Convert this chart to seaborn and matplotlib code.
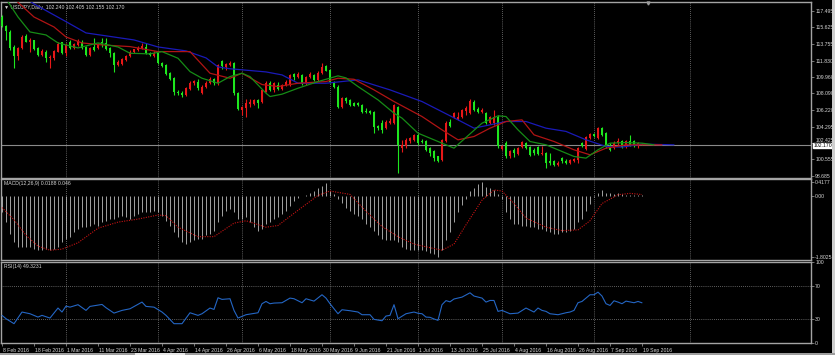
"""
USDJPY daily chart (Feb - Sep 2016) in the MetaTrader black layout:
candles with the Alligator lines, MACD(12,26,9) and RSI(14) sub-windows.
"""

import matplotlib
matplotlib.use("Agg")

import matplotlib.pyplot as plt
import matplotlib.transforms as mtransforms
import numpy as np
import pandas as pd
import seaborn as sns
from matplotlib.patches import Rectangle

# --- chart data -------------------------------------------------------------

date_labels = [
    "8 Feb 2016", "18 Feb 2016", "1 Mar 2016", "11 Mar 2016", "23 Mar 2016",
    "4 Apr 2016", "14 Apr 2016", "26 Apr 2016", "6 May 2016", "18 May 2016",
    "30 May 2016", "9 Jun 2016", "21 Jun 2016", "1 Jul 2016", "13 Jul 2016",
    "25 Jul 2016", "4 Aug 2016", "16 Aug 2016", "26 Aug 2016", "7 Sep 2016",
    "19 Sep 2016",
]
label_bars = list(range(0, 161, 8))
month_bars = [16, 39, 60, 82, 104, 125, 148, 172]

opens = [
    116.81, 115.79, 115.14, 113.43, 112.40, 113.31, 114.68, 113.96, 114.16, 113.24,
    112.48, 112.86, 112.10, 112.10, 112.86, 113.93, 112.67, 114.00, 113.31, 113.62,
    113.93, 113.43, 112.48, 113.43, 113.24, 113.93, 113.82, 113.24, 112.67, 111.34,
    111.45, 111.91, 112.37, 112.80, 113.05, 113.24, 113.43, 112.67, 112.37, 112.67,
    111.60, 111.34, 110.39, 109.82, 108.30, 108.18, 107.92, 108.57, 109.25, 109.44,
    108.11, 108.80, 109.32, 109.74, 109.25, 111.83, 111.15, 111.34, 111.53, 108.15,
    106.21, 106.40, 106.89, 106.89, 107.35, 107.16, 108.30, 109.32, 108.49, 109.06,
    108.57, 109.06, 109.06, 110.28, 110.00, 110.20, 109.25, 110.00, 110.20, 109.63,
    110.39, 111.23, 110.77, 109.44, 108.87, 106.52, 107.54, 107.35, 106.97, 107.04,
    106.78, 106.13, 106.13, 106.02, 104.39, 104.76, 104.12, 104.76, 104.69, 106.59,
    101.84, 102.03, 102.60, 102.79, 103.36, 102.71, 102.60, 101.84, 101.46, 100.89,
    100.51, 102.60, 104.88, 105.41, 105.18, 105.41, 106.13, 105.87, 107.16, 106.29,
    105.95, 105.87, 104.69, 104.76, 105.45, 101.73, 102.41, 100.89, 101.65, 101.19,
    101.99, 102.41, 101.95, 101.65, 101.95, 101.19, 101.27, 100.32, 100.32, 99.94,
    100.70, 100.43, 100.20, 100.35, 100.51, 102.41, 101.73, 102.98, 103.47, 103.02,
    104.12, 103.55, 102.22, 101.84, 102.45, 102.60, 101.96, 102.60, 102.60, 102.05,
    102.240,
]
highs = [
    117.04, 115.90, 115.30, 113.60, 113.40, 114.80, 114.87, 114.42, 114.20, 113.40,
    113.16, 113.00, 112.48, 113.05, 113.90, 114.00, 113.80, 114.15, 113.85, 114.30,
    114.20, 113.50, 113.40, 114.42, 113.85, 114.42, 114.42, 113.43, 112.80, 111.90,
    112.15, 112.50, 113.00, 113.20, 113.45, 113.85, 113.82, 112.80, 112.90, 112.80,
    111.70, 111.45, 110.50, 109.95, 108.50, 108.40, 108.80, 109.50, 109.65, 109.70,
    109.00, 109.45, 109.97, 109.90, 111.45, 111.90, 111.60, 111.80, 111.68, 108.30,
    106.60, 107.43, 107.45, 107.50, 107.43, 108.60, 109.45, 109.50, 109.35, 109.44,
    109.20, 109.60, 110.35, 110.40, 110.54, 110.30, 110.10, 110.50, 110.35, 110.60,
    111.60, 111.30, 110.90, 109.55, 109.00, 107.70, 107.73, 107.50, 107.15, 107.15,
    106.90, 106.40, 106.25, 106.10, 104.50, 105.07, 105.00, 105.30, 106.90, 106.67,
    102.79, 102.95, 103.15, 103.50, 103.50, 102.90, 102.75, 101.95, 101.60, 101.00,
    102.90, 104.90, 105.15, 106.00, 106.00, 106.35, 106.60, 107.43, 107.30, 106.50,
    106.40, 106.00, 105.50, 106.21, 105.60, 102.20, 102.60, 101.60, 101.85, 102.00,
    102.70, 102.55, 102.10, 101.80, 102.05, 102.03, 101.40, 101.27, 100.51, 100.35,
    100.85, 100.55, 100.65, 100.75, 102.00, 102.55, 103.20, 103.60, 103.60, 104.30,
    104.30, 103.70, 102.40, 102.60, 103.00, 102.75, 102.75, 103.36, 102.75, 102.55,
    102.405,
]
lows = [
    115.68, 114.19, 113.05, 110.96, 111.90, 113.20, 113.96, 112.86, 113.05, 112.30,
    112.40, 111.68, 111.00, 111.90, 112.80, 112.60, 112.40, 113.20, 113.20, 113.50,
    113.20, 112.40, 112.30, 112.90, 113.10, 113.43, 113.05, 112.29, 110.58, 111.20,
    111.30, 111.80, 112.25, 112.70, 112.90, 113.10, 112.60, 112.30, 112.25, 111.45,
    111.10, 110.20, 109.60, 107.92, 107.92, 107.69, 107.80, 108.50, 109.10, 108.49,
    108.00, 108.70, 109.20, 109.10, 109.10, 110.90, 110.77, 111.20, 107.90, 106.20,
    105.60, 105.45, 106.50, 106.80, 106.40, 107.00, 108.20, 108.40, 108.30, 108.49,
    108.45, 108.95, 108.95, 109.63, 109.80, 109.05, 109.10, 109.80, 109.50, 109.50,
    110.30, 110.60, 109.30, 108.70, 106.40, 106.40, 107.04, 106.65, 106.60, 106.60,
    105.90, 105.83, 105.75, 103.55, 103.95, 103.60, 104.00, 104.60, 104.55, 99.00,
    101.45, 101.90, 102.45, 102.70, 102.20, 102.40, 101.50, 100.90, 100.35, 100.30,
    100.40, 102.50, 104.30, 105.30, 105.05, 105.30, 105.64, 105.75, 106.10, 105.90,
    105.83, 104.55, 104.55, 104.50, 101.90, 101.60, 100.70, 100.75, 100.82, 101.05,
    101.90, 101.70, 100.95, 101.10, 101.05, 101.08, 99.55, 99.94, 99.75, 99.80,
    100.20, 100.00, 100.05, 100.25, 100.10, 101.95, 101.60, 102.90, 103.10, 102.90,
    103.17, 101.80, 101.50, 101.70, 102.20, 101.80, 101.85, 102.05, 101.95, 101.90,
    102.155,
]
closes = [
    115.79, 115.22, 113.24, 112.40, 113.24, 114.57, 114.00, 114.19, 113.16, 112.48,
    112.94, 112.10, 112.29, 112.97, 113.73, 112.67, 113.62, 113.31, 113.73, 114.08,
    113.31, 112.48, 113.31, 113.05, 113.70, 113.62, 113.16, 112.67, 111.34, 111.72,
    112.00, 112.40, 112.82, 113.10, 113.30, 113.51, 112.67, 112.48, 112.74, 111.53,
    111.23, 110.31, 109.71, 108.30, 108.11, 107.92, 108.68, 109.32, 109.52, 108.68,
    108.87, 109.32, 109.74, 109.25, 111.34, 111.23, 111.45, 111.60, 108.15, 106.29,
    106.48, 107.04, 107.16, 107.35, 106.97, 108.49, 109.32, 108.49, 109.25, 108.57,
    109.06, 109.44, 110.20, 109.94, 110.31, 109.17, 110.00, 110.28, 109.63, 110.47,
    111.15, 110.69, 109.44, 108.80, 106.52, 107.54, 107.27, 106.78, 106.67, 106.78,
    106.02, 105.98, 105.90, 104.23, 104.16, 103.93, 104.88, 104.99, 106.78, 102.22,
    102.22, 102.79, 102.98, 103.36, 102.41, 102.56, 101.65, 101.34, 100.70, 100.43,
    102.79, 104.76, 104.39, 105.83, 105.45, 106.21, 106.40, 107.27, 106.21, 106.02,
    106.21, 104.69, 105.37, 105.45, 102.03, 102.03, 100.89, 101.46, 101.27, 101.84,
    102.56, 101.84, 101.08, 101.27, 101.19, 101.34, 100.20, 100.20, 99.94, 100.20,
    100.32, 100.13, 100.51, 100.59, 101.84, 102.11, 103.10, 103.47, 103.25, 104.12,
    103.36, 101.96, 101.65, 102.48, 102.60, 101.96, 102.60, 102.22, 102.11, 102.41,
    102.170,
]

# Alligator lines, (bar, price) vertices
jaw_bars = [6, 8, 16, 21, 33, 39, 46, 51, 54, 57, 66, 70, 74, 81, 89, 97, 105, 114,
            118, 122, 126, 131, 136, 141, 146, 151, 155, 160, 168]
jaw_vals = [118.9, 118.3, 116.28, 114.99, 114.19, 113.39, 112.94, 112.14, 111.11,
            110.9, 110.54, 110.2, 109.25, 109.25, 109.63, 108.49, 107.16, 105.07,
            104.12, 104.5, 104.88, 104.88, 104.12, 103.75, 102.79, 102.03, 101.96,
            102.3, 102.22]
teeth_bars = [3, 8, 13, 16, 20, 25, 32, 39, 47, 52, 57, 60, 65, 69, 74, 81, 84, 88,
              93, 98, 105, 110, 114, 118, 122, 126, 130, 133, 138, 143, 147, 151,
              156, 165]
teeth_vals = [118.9, 116.81, 115.67, 114.53, 113.85, 113.62, 113.43, 112.86, 112.86,
              110.39, 109.82, 110.39, 109.1, 108.87, 109.25, 109.44, 109.82, 109.70,
              108.49, 107.16, 105.45, 103.93, 102.79, 103.17, 104.12, 104.88, 105.07,
              103.36, 102.60, 101.65, 101.08, 101.84, 102.22, 102.22]
lips_bars = [1, 4, 7, 11, 14, 19, 24, 29, 32, 37, 40, 44, 47, 50, 54, 57, 60, 62, 66,
             67, 70, 74, 79, 84, 86, 89, 94, 98, 100, 104, 109, 113, 120, 124, 126,
             129, 132, 136, 140, 143, 146, 149, 152, 156, 160, 163]
lips_vals = [118.9, 116.81, 115.10, 114.76, 113.85, 113.28, 113.85, 113.39, 112.67,
             112.60, 112.86, 112.10, 110.58, 109.82, 109.25, 110.01, 110.39, 110.0,
             108.11, 107.73, 108.0, 108.68, 109.44, 110.09, 109.86, 108.87, 107.35,
             105.83, 105.27, 103.55, 102.60, 101.84, 104.69, 105.53, 105.45, 103.93,
             102.60, 102.22, 101.46, 100.89, 100.70, 101.65, 102.41, 102.48, 102.41,
             102.22]

# MACD main line, one value per bar (drawn as histogram)
macd_main = [
    -0.48, -0.78, -1.11, -1.36, -1.50, -1.50, -1.50, -1.50, -1.55, -1.60,
    -1.60, -1.55, -1.60, -1.55, -1.50, -1.36, -1.26, -1.21, -1.07, -0.97,
    -0.92, -0.92, -0.87, -0.82, -0.87, -0.78, -0.73, -0.68, -0.68, -0.63,
    -0.58, -0.63, -0.68, -0.58, -0.53, -0.48, -0.48, -0.48, -0.44, -0.48,
    -0.58, -0.73, -0.87, -1.07, -1.21, -1.36, -1.41, -1.36, -1.31, -1.26,
    -1.26, -1.16, -1.11, -1.02, -0.78, -0.58, -0.44, -0.39, -0.48, -0.68,
    -0.68, -0.63, -0.78, -0.92, -1.02, -0.97, -0.82, -0.78, -0.68, -0.63,
    -0.53, -0.44, -0.29, -0.15, -0.05, 0.00, 0.03, 0.10, 0.15, 0.24,
    0.31, 0.40, 0.15, 0.05, -0.10, -0.19, -0.34, -0.44, -0.53, -0.58,
    -0.68, -0.82, -0.92, -1.02, -1.16, -1.26, -1.31, -1.31, -1.31, -1.36,
    -1.50, -1.55, -1.60, -1.60, -1.60, -1.60, -1.63, -1.67, -1.71, -1.80,
    -1.60, -1.31, -1.05, -0.78, -0.48, -0.27, -0.10, 0.15, 0.24, 0.36,
    0.41, 0.26, 0.24, 0.19, 0.05, -0.10, -0.47, -0.68, -0.82, -0.82,
    -0.87, -0.87, -0.92, -0.92, -0.97, -0.97, -1.02, -1.07, -1.11, -1.11,
    -1.07, -1.07, -1.02, -0.97, -0.78, -0.68, -0.44, -0.24, -0.02, 0.10,
    0.17, 0.10, 0.10, 0.05, 0.10, 0.05, 0.03, 0.03, 0.03, 0.02, 0.0188,
]
signal_bars = [0, 3, 6, 9, 12, 15, 19, 24, 29, 34, 39, 41, 44, 49, 53, 58, 61, 66, 69,
               74, 79, 82, 87, 91, 95, 99, 103, 106, 110, 113, 116, 120, 123, 125,
               128, 131, 136, 140, 144, 147, 150, 154, 157, 160]
signal_vals = [-0.34, -0.70, -1.16, -1.48, -1.60, -1.57, -1.38, -0.95, -0.77, -0.68,
               -0.56, -0.58, -0.92, -1.20, -1.20, -0.80, -0.73, -0.92, -0.87, -0.42,
               0.02, 0.15, 0.05, -0.45, -0.90, -1.20, -1.42, -1.50, -1.60, -1.42,
               -0.85, -0.12, 0.18, 0.15, -0.22, -0.65, -0.92, -1.02, -1.00, -0.73,
               -0.22, 0.04, 0.08, 0.046]

# RSI(14) vertices
rsi_bars = [0, 1, 3, 5, 7, 9, 10, 12, 14, 15, 16, 17, 19, 21, 22, 25, 26, 28, 30, 32,
            35, 36, 38, 39, 40, 41, 43, 45, 47, 49, 50, 52, 53, 54, 55, 57, 58, 59,
            61, 64, 65, 66, 67, 68, 70, 72, 73, 75, 76, 78, 80, 81, 82, 84, 85, 87,
            89, 90, 92, 93, 95, 96, 97, 98, 99, 101, 103, 104, 105, 106, 107, 108,
            109, 110, 111, 112, 113, 115, 117, 118, 120, 121, 122, 123, 124, 125,
            127, 129, 131, 133, 134, 135, 136, 137, 139, 141, 142, 143, 144, 145,
            147, 148, 149, 150, 151, 152, 153, 154, 155, 156, 158, 159, 160]
rsi_vals = [33.9, 29.8, 23.7, 38.0, 35.9, 31.8, 33.9, 30.6, 42.9, 38.0, 45.3, 44.0,
            47.0, 40.0, 44.9, 47.3, 43.3, 36.7, 40.0, 42.0, 50.2, 44.9, 44.0, 41.0,
            38.0, 33.9, 23.7, 23.7, 37.1, 33.9, 35.9, 42.9, 41.2, 55.5, 53.5, 54.3,
            40.0, 30.6, 34.7, 37.1, 48.2, 51.0, 48.2, 49.0, 49.4, 55.1, 54.3, 49.4,
            54.3, 51.4, 59.2, 55.1, 48.2, 35.9, 40.8, 39.6, 38.0, 34.7, 34.7, 29.0,
            27.3, 33.1, 33.9, 47.0, 29.8, 35.9, 38.0, 36.5, 35.9, 31.8, 31.5, 29.5,
            27.8, 47.0, 52.0, 50.5, 54.0, 56.3, 61.6, 57.6, 55.1, 50.2, 52.2, 52.2,
            38.8, 40.0, 35.9, 36.7, 42.9, 38.0, 42.9, 40.0, 38.8, 35.9, 34.7, 37.1,
            38.0, 40.0, 49.4, 51.0, 59.2, 59.2, 62.4, 57.6, 48.2, 46.1, 51.8, 50.2,
            48.2, 51.4, 49.4, 51.0, 49.3231]

price_ticks = [117.495, 115.625, 113.755, 111.830, 109.960, 108.090, 106.220,
               104.295, 102.425, 100.555, 98.685]
macd_ticks = [0.4177, 0.0, -1.8025]
macd_tick_labels = ["0.4177", "0.00", "-1.8025"]
rsi_levels = [70, 30]

# --- styling ----------------------------------------------------------------
BG = "black"
FRAME = "#a4a4a4"
TEXT = "#d6d6d6"
GRID = "#b4b4b4"
BULL = "#e81818"     # close above open
BEAR = "#1ee61e"     # close below open
JAW = "#1a1ab8"
TEETH = "#b01414"
LIPS = "#168c16"
MACD_BAR = "#bcbcbc"
SIGNAL = "#c81414"
RSI_LINE = "#2466c4"
FONT = 3.7

W, H = 835, 355

sns.set_style("dark")
plt.rcParams["font.family"] = ["Liberation Sans", "DejaVu Sans"]


def make_panel(fig, top, bottom):
    """Add one chart window spanning the given pixel rows."""
    ax = fig.add_axes([1 / W, 1 - bottom / H, 810 / W, (bottom - top) / H])
    ax.set_facecolor(BG)
    for spine in ax.spines.values():
        spine.set_color(FRAME)
        spine.set_linewidth(1.0)
    ax.tick_params(axis="y", left=False, labelleft=False, right=True,
                   labelright=True, length=2, width=0.5, color=FRAME, pad=1,
                   labelsize=FONT, labelcolor=TEXT)
    ax.tick_params(axis="x", bottom=False, labelbottom=False)
    ax.grid(False)
    for b in month_bars:
        ax.axvline(b, color=GRID, lw=0.5, ls=(0, (1, 2)), zorder=0)
    return ax


fig = plt.figure(figsize=(W / 100, H / 100), dpi=100, facecolor=BG)
ax_price = make_panel(fig, 2, 177.5)
ax_macd = make_panel(fig, 178.5, 260)
ax_rsi = make_panel(fig, 261.5, 343)

# --- price window -----------------------------------------------------------
bars = pd.DataFrame({"open": opens, "high": highs, "low": lows, "close": closes})
bars["bar"] = np.arange(len(bars))
colors = np.where(bars["close"] > bars["open"], BULL, BEAR)
body_low = bars[["open", "close"]].min(axis=1)
body_h = (bars["close"] - bars["open"]).abs().clip(lower=0.06)

ax_price.vlines(bars["bar"], bars["low"], bars["high"], colors=colors, lw=0.8, zorder=3)
ax_price.bar(bars["bar"], body_h, bottom=body_low, width=0.72, color=colors,
             linewidth=0, zorder=4)

for xs, ys, col in [(jaw_bars, jaw_vals, JAW), (teeth_bars, teeth_vals, TEETH),
                    (lips_bars, lips_vals, LIPS)]:
    sns.lineplot(x=xs, y=ys, ax=ax_price, color=col, lw=0.9, zorder=5)

last = closes[-1]
ax_price.axhline(last, color="#8a8a8a", lw=0.8, zorder=1)
edge = mtransforms.blended_transform_factory(ax_price.transAxes, ax_price.transData)
ax_price.text(1.003, last - 0.05, f"{last:.3f}", transform=edge, fontsize=FONT,
              color="black", va="center", ha="left", zorder=10,
              bbox=dict(facecolor="white", edgecolor="white", pad=0.2))

ax_price.set_ylim(98.49, 118.52)
ax_price.set_yticks(price_ticks)
ax_price.set_yticklabels([f"{v:.3f}" for v in price_ticks])
# the tick label just above the price box sits partly behind it in the terminal;
# lift it a little so both stay readable
for lbl, val in zip(ax_price.get_yticklabels(), price_ticks):
    if abs(val - last) < 0.5:
        lbl.set_verticalalignment("bottom")

ax_price.text(0.004, 0.985, "\u25bc USDJPY,Daily  102.240 102.405 102.155 102.170",
              transform=ax_price.transAxes, fontsize=FONT, color=TEXT,
              va="top", ha="left")
top_edge = mtransforms.blended_transform_factory(ax_price.transData, ax_price.transAxes)
ax_price.plot([len(bars) + 0.5], [0.995], marker="v", ms=2.2, color="#9a9a9a",
              transform=top_edge, clip_on=False, zorder=10)

# --- MACD window ------------------------------------------------------------
ax_macd.vlines(np.arange(len(macd_main)), 0, macd_main, colors=MACD_BAR, lw=0.6, zorder=3)
sns.lineplot(x=signal_bars, y=signal_vals, ax=ax_macd, color=SIGNAL, lw=0.8,
             linestyle=(0, (1, 1.2)), zorder=4)
ax_macd.set_ylim(-1.89, 0.52)
ax_macd.set_yticks(macd_ticks)
ax_macd.set_yticklabels(macd_tick_labels)
ax_macd.text(0.004, 0.97, "MACD(12,26,9) 0.0188 0.046", transform=ax_macd.transAxes,
             fontsize=FONT, color=TEXT, va="top", ha="left")

# --- RSI window -------------------------------------------------------------
for lvl in rsi_levels:
    ax_rsi.axhline(lvl, color=GRID, lw=0.5, ls=(0, (1, 2)), zorder=0)
sns.lineplot(x=rsi_bars, y=rsi_vals, ax=ax_rsi, color=RSI_LINE, lw=0.8, zorder=4)
ax_rsi.set_ylim(0, 100)
ax_rsi.set_yticks([100, 70, 30, 0])
ax_rsi.set_yticklabels(["100", "70", "30", "0"])
ax_rsi.text(0.004, 0.97, "RSI(14) 49.3231", transform=ax_rsi.transAxes,
            fontsize=FONT, color=TEXT, va="top", ha="left")

ax_rsi.set_xticks(label_bars)
ax_rsi.set_xticklabels(date_labels)
ax_rsi.tick_params(axis="x", bottom=True, labelbottom=True, length=2, width=0.5,
                   color=FRAME, pad=1.5, labelsize=FONT, labelcolor=TEXT)
shift = mtransforms.ScaledTranslation(1 / 100, 0, fig.dpi_scale_trans)
for lbl in ax_rsi.get_xticklabels():
    lbl.set_horizontalalignment("left")
    lbl.set_transform(lbl.get_transform() + shift)

for ax in (ax_price, ax_macd, ax_rsi):
    ax.set_xlim(-0.25, 202.25)
    ax.set_xlabel("")
    ax.set_ylabel("")

# window frame strips (scroll bar on the right, tab bar at the bottom)
fig.add_artist(Rectangle((832 / W, 0), 3 / W, 1, transform=fig.transFigure,
                         facecolor="#cfcfcf", edgecolor="none"))
fig.add_artist(Rectangle((0, 0), 1, 2.5 / H, transform=fig.transFigure,
                         facecolor="#9e9e9e", edgecolor="none"))
fig.add_artist(Rectangle((135 / W, 0), 50 / W, 2.5 / H, transform=fig.transFigure,
                         facecolor="#e6e6e6", edgecolor="none"))

fig.savefig("out.png", dpi=100, facecolor=BG)
plt.close(fig)
